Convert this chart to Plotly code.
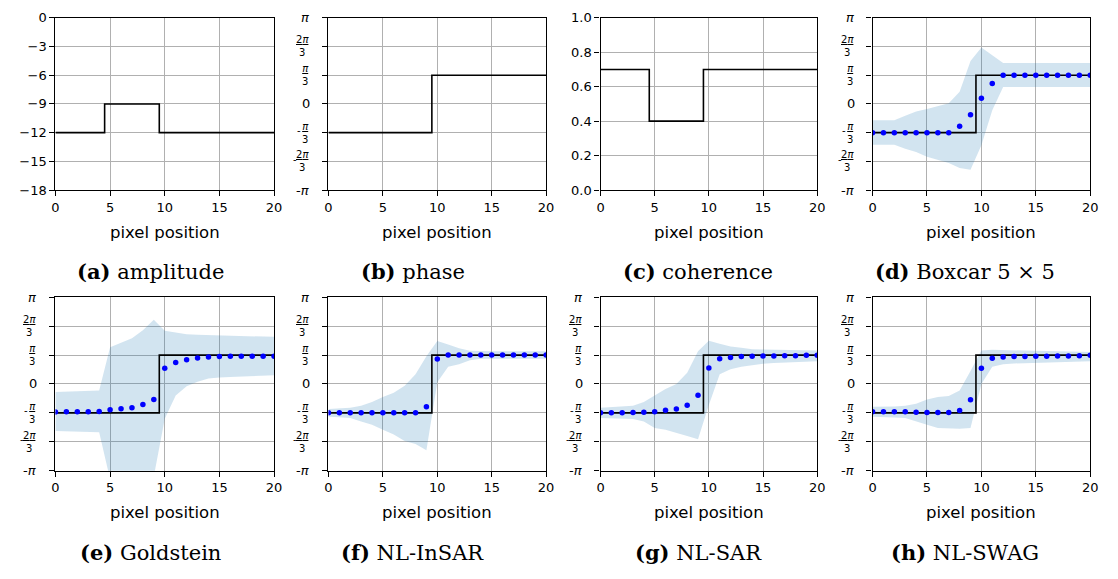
import numpy as np
import plotly.graph_objects as go
from plotly.subplots import make_subplots

W, H = 1118, 579

# ---------------------------------------------------------------- data
pixel = list(range(21))
x_ticks = [0, 5, 10, 15, 20]

# ground-truth profiles (step edges and levels)
amp_edges = [0, 4.5, 9.5, 20]
amp_levels = [-12, -9, -12, -12]
coh_edges = [0, 4.5, 9.5, 20]
coh_levels = [0.7, 0.4, 0.7, 0.7]
phase_edges = [0, 9.5, 20]
phase_levels = [-1, 1, 1]          # in units of pi/3

amp_ticks = [0, -3, -6, -9, -12, -15, -18]
amp_ticktext = ["0", "\u22123", "\u22126", "\u22129", "\u221212", "\u221215", "\u221218"]
coh_ticks = [0.0, 0.2, 0.4, 0.6, 0.8, 1.0]
coh_ticktext = ["0.0", "0.2", "0.4", "0.6", "0.8", "1.0"]
phase_ticks = [-3, -2, -1, 0, 1, 2, 3]   # multiples of pi/3

# estimated phase per pixel: mean and spread band, in units of pi/3
boxcar_mean = [-1, -1, -1, -1, -1, -1, -1, -1, -0.78, -0.38, 0.2, 0.71,
               1, 1, 1, 1, 1, 1, 1, 1, 1]
boxcar_upper = [-0.57, -0.57, -0.57, -0.41, -0.26, -0.18, -0.09, 0.02, 0.42, 1.49, 1.96,
                1.69, 1.42, 1.42, 1.42, 1.42, 1.42, 1.42, 1.42, 1.42, 1.42]
boxcar_lower = [-1.42, -1.42, -1.42, -1.56, -1.67, -1.84, -1.95, -2.06, -2.23, -2.29, -1.44,
                -0.22, 0.59, 0.59, 0.59, 0.59, 0.59, 0.59, 0.59, 0.59, 0.59]

goldstein_mean = [-0.97, -0.96, -0.96, -0.96, -0.95, -0.89, -0.86, -0.82, -0.71, -0.54, 0.54,
                  0.74, 0.84, 0.90, 0.93, 0.95, 0.96, 0.96, 0.96, 0.96, 0.96]
goldstein_upper = [-0.28, -0.27, -0.26, -0.25, -0.23, 1.27, 1.42, 1.58, 1.86, 2.22, 1.84,
                   1.77, 1.72, 1.70, 1.69, 1.68, 1.67, 1.66, 1.65, 1.64, 1.63]
goldstein_lower = [-1.63, -1.64, -1.65, -1.66, -1.67, -3.3, -3.3, -3.3, -3.3, -3.2, -1.2,
                   -0.4, -0.08, 0.08, 0.19, 0.22, 0.24, 0.26, 0.27, 0.29, 0.30]

nlinsar_mean = [-1, -1, -1, -1, -1, -1, -1, -1, -1, -0.79, 0.86,
                1, 1, 1, 1, 1, 1, 1, 1, 1, 1]
nlinsar_upper = [-0.87, -0.85, -0.82, -0.75, -0.62, -0.45, -0.30, -0.06, 0.34, 0.96, 1.49,
                 1.37, 1.24, 1.15, 1.13, 1.13, 1.13, 1.13, 1.13, 1.13, 1.13]
nlinsar_lower = [-1.13, -1.15, -1.18, -1.30, -1.41, -1.58, -1.75, -1.97, -2.08, -2.29, 0.06,
                 0.60, 0.68, 0.82, 0.87, 0.87, 0.87, 0.87, 0.87, 0.87, 0.87]

nlsar_mean = [-1, -1, -1, -0.99, -0.98, -0.96, -0.91, -0.87, -0.74, -0.39, 0.55,
              0.87, 0.92, 0.95, 0.96, 0.97, 0.97, 0.98, 0.98, 0.99, 0.99]
nlsar_upper = [-0.82, -0.80, -0.78, -0.75, -0.62, -0.39, -0.17, 0.0, 0.39, 1.13, 1.50,
               1.39, 1.30, 1.25, 1.20, 1.19, 1.18, 1.18, 1.17, 1.17, 1.16]
nlsar_lower = [-1.18, -1.19, -1.20, -1.21, -1.30, -1.52, -1.58, -1.69, -1.80, -1.91, -0.73,
               0.34, 0.51, 0.60, 0.66, 0.70, 0.73, 0.75, 0.77, 0.78, 0.79]

nlswag_mean = [-0.96, -0.96, -0.96, -0.96, -0.98, -0.99, -0.99, -0.99, -0.92, -0.55, 0.54,
               0.89, 0.93, 0.95, 0.95, 0.96, 0.96, 0.97, 0.97, 0.98, 0.99]
nlswag_upper = [-0.79, -0.79, -0.78, -0.75, -0.68, -0.54, -0.45, -0.42, -0.23, 0.45, 1.16,
                1.18, 1.17, 1.17, 1.16, 1.15, 1.14, 1.13, 1.12, 1.12, 1.11]
nlswag_lower = [-1.13, -1.14, -1.16, -1.18, -1.30, -1.41, -1.52, -1.54, -1.55, -1.52, 0.0,
                0.60, 0.68, 0.71, 0.73, 0.75, 0.76, 0.77, 0.78, 0.78, 0.79]

captions = [("a", "amplitude"), ("b", "phase"), ("c", "coherence"), ("d", "Boxcar 5 \u00d7 5"),
            ("e", "Goldstein"), ("f", "NL-InSAR"), ("g", "NL-SAR"), ("h", "NL-SWAG")]

filters = {
    4: (boxcar_mean, boxcar_upper, boxcar_lower),
    5: (goldstein_mean, goldstein_upper, goldstein_lower),
    6: (nlinsar_mean, nlinsar_upper, nlinsar_lower),
    7: (nlsar_mean, nlsar_upper, nlsar_lower),
    8: (nlswag_mean, nlswag_upper, nlswag_lower),
}

# ---------------------------------------------------------------- layout geometry (pixels)
col_px = [(52, 273), (328, 548), (603, 822), (878, 1098)]
row_px = [(11, 188), (298, 476)]
label_y_px = [232, 519]
caption_y_px = [272, 560]
caption_x_px = [148, 413, 702, 971]

PI3 = np.pi / 3
SANS = "DejaVu Sans"
SERIF = "DejaVu Serif"
BAND = "rgba(31,119,180,0.2)"

fig = make_subplots(rows=2, cols=4)


def to_rad(vals):
    return [v * PI3 for v in vals]


def add_step(edges, levels, r, c, scale=1.0):
    fig.add_trace(go.Scatter(x=edges, y=[v * scale for v in levels], mode="lines",
                             line=dict(shape="hv", color="black", width=1.6),
                             showlegend=False, hoverinfo="skip"), row=r, col=c)


# top row ground truth
add_step(amp_edges, amp_levels, 1, 1)
add_step(phase_edges, phase_levels, 1, 2, PI3)
add_step(coh_edges, coh_levels, 1, 3)

for n, (mean, upper, lower) in filters.items():
    r, c = (n - 1) // 4 + 1, (n - 1) % 4 + 1
    fig.add_trace(go.Scatter(x=pixel + pixel[::-1], y=to_rad(upper) + to_rad(lower)[::-1],
                             fill="toself", fillcolor=BAND, mode="lines",
                             line=dict(width=0, color=BAND),
                             showlegend=False, hoverinfo="skip"), row=r, col=c)
    add_step(phase_edges, phase_levels, r, c, PI3)
    fig.add_trace(go.Scatter(x=pixel, y=to_rad(mean), mode="markers",
                             marker=dict(color="#0000ff", size=5.5, line=dict(width=0)),
                             showlegend=False, hoverinfo="skip"), row=r, col=c)

axis_common = dict(showline=True, mirror=True, linecolor="black", linewidth=1.3,
                   ticks="outside", ticklen=5, tickwidth=1.2, tickcolor="black",
                   showgrid=True, gridcolor="#b0b0b0", gridwidth=1.2, zeroline=False,
                   tickfont=dict(family=SANS, size=13, color="black"))

annotations = []
for n in range(1, 9):
    r, c = (n - 1) // 4, (n - 1) % 4
    x0, x1 = col_px[c]
    y0, y1 = row_px[r]
    suffix = "" if n == 1 else str(n)
    fig.layout["xaxis" + suffix].update(
        domain=[x0 / W, x1 / W], range=[0, 20], tickvals=x_ticks,
        ticktext=[str(t) for t in x_ticks], **axis_common)
    yax = fig.layout["yaxis" + suffix]
    yax.update(domain=[1 - y1 / H, 1 - y0 / H], **axis_common)
    if n == 1:
        yax.update(range=[-18, 0], tickvals=amp_ticks, ticktext=amp_ticktext)
    elif n == 3:
        yax.update(range=[0, 1], tickvals=coh_ticks, ticktext=coh_ticktext)
    else:
        yax.update(range=[-np.pi, np.pi], tickvals=[k * PI3 for k in phase_ticks],
                   showticklabels=False)
        xref, yref = "x" + suffix + " domain", "y" + suffix
        for k in phase_ticks:
            yv = k * PI3
            base = dict(xref=xref, yref=yref, x=0, y=yv, xanchor="right", yanchor="middle",
                        showarrow=False, align="center")
            if k == 3:
                annotations.append(dict(base, text="<i>π</i>", xshift=-17,
                                        font=dict(family=SANS, size=13, color="black")))
            elif k == -3:
                annotations.append(dict(base, text="-<i>π</i>", xshift=-17,
                                        font=dict(family=SANS, size=13, color="black")))
            elif k == 0:
                annotations.append(dict(base, text="0", xshift=-16,
                                        font=dict(family=SANS, size=13, color="black")))
            else:
                num = "2<i>π</i>" if abs(k) == 2 else "<i>π</i>"
                annotations.append(dict(base, text="<u>" + num + "</u><br>3", xshift=-17,
                                        font=dict(family=SANS, size=10, color="black")))
                if k < 0:
                    wfrac = 12 if abs(k) == 2 else 8
                    annotations.append(dict(base, text="-", xshift=-17 - wfrac, yshift=2,
                                            font=dict(family=SANS, size=10, color="black")))

    # x-axis label
    annotations.append(dict(xref="paper", yref="paper", x=(x0 + x1) / 2 / W,
                            y=1 - label_y_px[r] / H, xanchor="center", yanchor="middle",
                            text="pixel position", showarrow=False,
                            font=dict(family=SANS, size=16.5, color="black")))
    # sub-figure caption
    letter, name = captions[n - 1]
    annotations.append(dict(xref="paper", yref="paper", x=caption_x_px[c] / W,
                            y=1 - caption_y_px[r] / H, xanchor="center", yanchor="middle",
                            text="<b>(" + letter + ")</b> " + name, showarrow=False,
                            font=dict(family=SERIF, size=21, color="black")))

fig.update_layout(width=W, height=H, margin=dict(l=0, r=0, t=0, b=0),
                  paper_bgcolor="white", plot_bgcolor="white",
                  annotations=annotations, showlegend=False)

fig.write_html("out.html")
